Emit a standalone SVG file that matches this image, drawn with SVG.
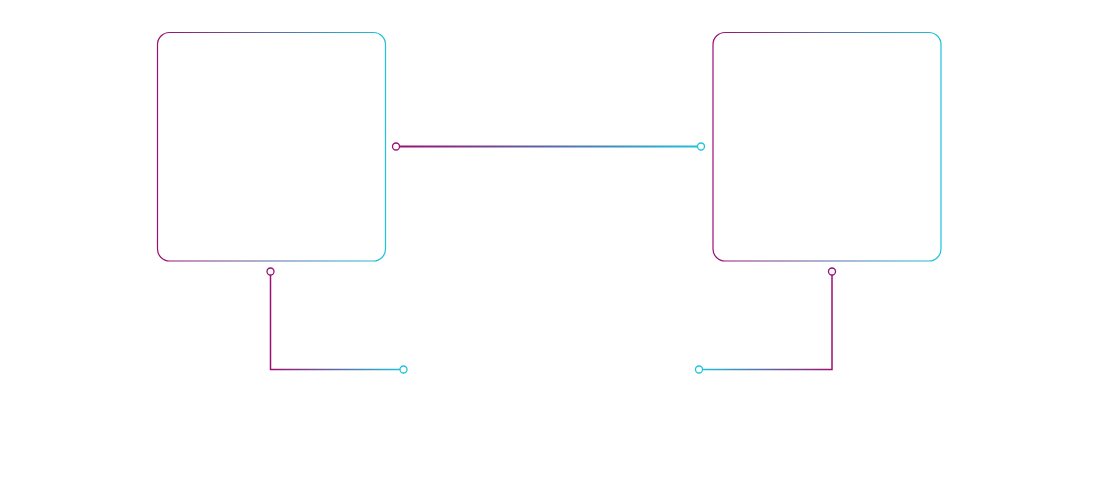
<svg xmlns="http://www.w3.org/2000/svg" width="1100" height="500" viewBox="0 0 1100 500">
<defs>
<linearGradient id="gBox" x1="0" y1="0" x2="1" y2="0">
<stop offset="0" stop-color="#9a0f72"/>
<stop offset="1" stop-color="#1ec3da"/>
</linearGradient>
<linearGradient id="gMain" gradientUnits="userSpaceOnUse" x1="396" y1="0" x2="701" y2="0">
<stop offset="0" stop-color="#9a0f72"/>
<stop offset="1" stop-color="#1ec3da"/>
</linearGradient>
<linearGradient id="gL" gradientUnits="userSpaceOnUse" x1="270" y1="0" x2="404" y2="0">
<stop offset="0" stop-color="#9a0f72"/>
<stop offset="1" stop-color="#1ec3da"/>
</linearGradient>
<linearGradient id="gR" gradientUnits="userSpaceOnUse" x1="832" y1="0" x2="699" y2="0">
<stop offset="0" stop-color="#9a0f72"/>
<stop offset="1" stop-color="#1ec3da"/>
</linearGradient>
</defs>
<style>
.box{fill:#fff;stroke:url(#gBox);stroke-width:1.2}
.c{fill:#fff;stroke-width:1.3}
.m{stroke:#9a0f72}
.cy{stroke:#1ec3da}
</style>
<rect width="1100" height="500" fill="#fff"/>
<g id="node-left"><rect class="box" x="157.5" y="32.5" width="228" height="228.5" rx="12"/></g>
<g id="node-right"><rect class="box" x="713" y="32.5" width="228" height="228.5" rx="12"/></g>
<g id="connectors" fill="none">
<line x1="399.5" y1="146.5" x2="697.5" y2="146.5" stroke="url(#gMain)" stroke-width="2"/>
<circle class="c m" cx="396" cy="146.5" r="3.5" stroke-width="1.6"/>
<circle class="c cy" cx="701" cy="146.5" r="3.5" stroke-width="1.6"/>
<path d="M270.5 275 V369.5 H400" stroke="url(#gL)" stroke-width="1.5"/>
<circle class="c m" cx="270.5" cy="271.5" r="3.5"/>
<circle class="c cy" cx="403.5" cy="369.5" r="3.5"/>
<path d="M832 275 V369.5 H702.5" stroke="url(#gR)" stroke-width="1.5"/>
<circle class="c m" cx="832" cy="271.5" r="3.5"/>
<circle class="c cy" cx="699" cy="369.5" r="3.5"/>
</g>
</svg>
